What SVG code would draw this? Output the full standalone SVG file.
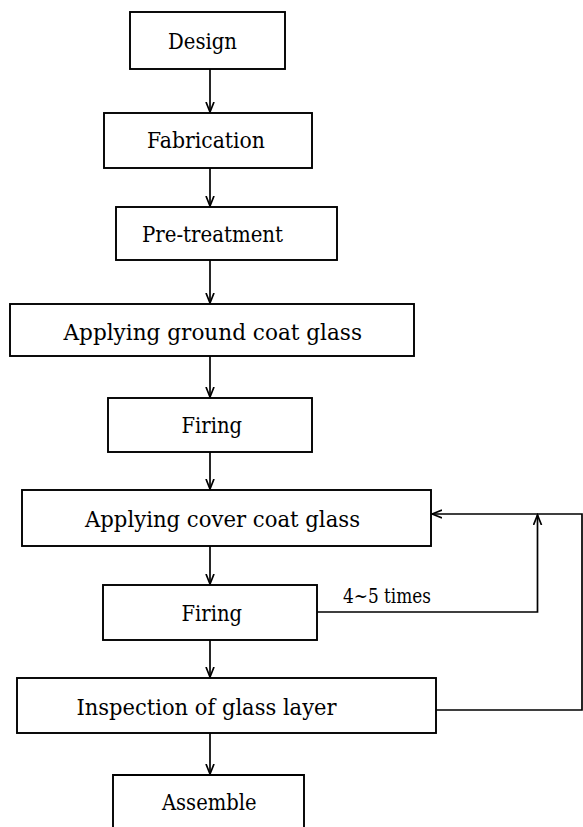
<svg xmlns="http://www.w3.org/2000/svg" width="583" height="827" viewBox="0 0 583 827">
<style>
.box{fill:#fff;stroke:#000;stroke-width:1.9}
.lbl{font-family:'DejaVu Serif','Liberation Serif',serif;font-size:22px;fill:#000}
.note{font-family:'DejaVu Serif','Liberation Serif',serif;font-size:20px;fill:#000}
.ln{fill:none;stroke:#000;stroke-width:1.7}
</style>
<defs>
<marker id="ah" markerWidth="12" markerHeight="12" refX="10" refY="5" orient="auto" markerUnits="userSpaceOnUse">
<path d="M0,1 L10,5 L0,9" fill="none" stroke="#000" stroke-width="1.7"/>
</marker>
</defs>
<rect width="583" height="827" fill="#fff"/>
<g id="connectors">
<line class="ln" x1="210" y1="69" x2="210" y2="112" marker-end="url(#ah)"/>
<line class="ln" x1="210" y1="168" x2="210" y2="206" marker-end="url(#ah)"/>
<line class="ln" x1="210" y1="260" x2="210" y2="303" marker-end="url(#ah)"/>
<line class="ln" x1="210" y1="356" x2="210" y2="397" marker-end="url(#ah)"/>
<line class="ln" x1="210" y1="452" x2="210" y2="489" marker-end="url(#ah)"/>
<line class="ln" x1="210" y1="546" x2="210" y2="584" marker-end="url(#ah)"/>
<line class="ln" x1="210" y1="640" x2="210" y2="677" marker-end="url(#ah)"/>
<line class="ln" x1="210" y1="733" x2="210" y2="774" marker-end="url(#ah)"/>
<polyline class="ln" points="317,612 537.5,612 537.5,515" marker-end="url(#ah)"/>
<polyline class="ln" points="436,710 582,710 582,514 432,514" marker-end="url(#ah)"/>
<text class="note" x="343" y="603" textLength="88" lengthAdjust="spacingAndGlyphs">4~5 times</text>
</g>
<g id="design">
<rect class="box" x="130" y="12" width="155" height="57"/>
<text class="lbl" x="168" y="49" textLength="69" lengthAdjust="spacingAndGlyphs">Design</text>
</g>
<g id="fabrication">
<rect class="box" x="104" y="113" width="208" height="55"/>
<text class="lbl" x="147" y="148" textLength="118" lengthAdjust="spacingAndGlyphs">Fabrication</text>
</g>
<g id="pretreatment">
<rect class="box" x="116" y="207" width="221" height="53"/>
<text class="lbl" x="142" y="241.5" textLength="141" lengthAdjust="spacingAndGlyphs">Pre-treatment</text>
</g>
<g id="ground">
<rect class="box" x="10" y="304" width="404" height="52"/>
<text class="lbl" x="63.5" y="340" textLength="298.5" lengthAdjust="spacingAndGlyphs">Applying ground coat glass</text>
</g>
<g id="firing1">
<rect class="box" x="108" y="398" width="204" height="54"/>
<text class="lbl" x="181.5" y="433" textLength="60.5" lengthAdjust="spacingAndGlyphs">Firing</text>
</g>
<g id="cover">
<rect class="box" x="22" y="490" width="409" height="56"/>
<text class="lbl" x="85" y="527" textLength="275" lengthAdjust="spacingAndGlyphs">Applying cover coat glass</text>
</g>
<g id="firing2">
<rect class="box" x="103" y="585" width="214" height="55"/>
<text class="lbl" x="181.5" y="621" textLength="60.5" lengthAdjust="spacingAndGlyphs">Firing</text>
</g>
<g id="inspection">
<rect class="box" x="17" y="678" width="419" height="55"/>
<text class="lbl" x="76.5" y="715" textLength="260" lengthAdjust="spacingAndGlyphs">Inspection of glass layer</text>
</g>
<g id="assemble">
<path class="box" d="M113,830 L113,775 L304,775 L304,830"/>
<text class="lbl" x="162" y="810" textLength="94.5" lengthAdjust="spacingAndGlyphs">Assemble</text>
</g>
</svg>
